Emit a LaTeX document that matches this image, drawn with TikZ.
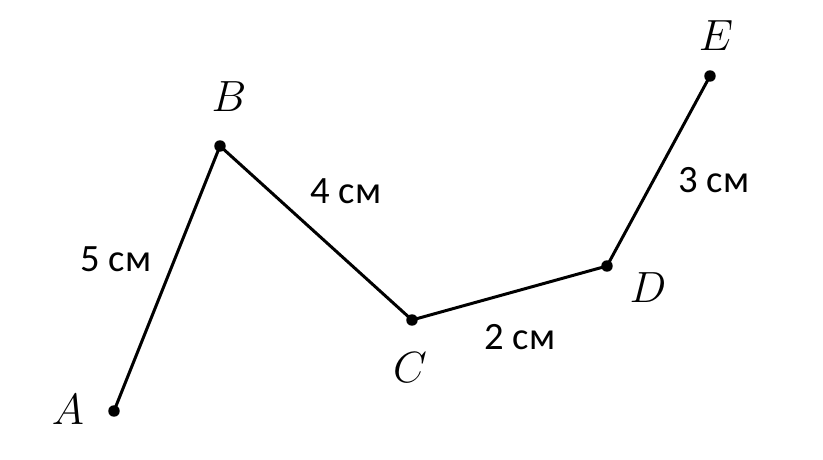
\documentclass[tikz,border=0pt]{standalone}
\usepackage{fontspec}
\setmainfont{Carlito}
\begin{document}
\begin{tikzpicture}[x=0.02cm,y=-0.02cm,
		dot/.style={circle,fill=black,inner sep=0pt,minimum size=11.5pt*0.567},
		pt/.style={font=\fontsize{24}{28}\selectfont},
		len/.style={font=\fontsize{22}{26}\selectfont}]
		\useasboundingbox (0,0) rectangle (823,460);
		\node[dot] (A) at (114,411) {};
		\node[dot] (B) at (220,146) {};
		\node[dot] (C) at (412,320) {};
		\node[dot] (D) at (607,266) {};
		\node[dot] (E) at (710,76) {};
		\draw[line width=1.7pt] (A.center) -- (B.center) -- (C.center) -- (D.center) -- (E.center);
		\node[pt] (lA) at (68,410) {$A$};
		\node[pt] (lB) at (229,97) {$B$};
		\node[pt] (lC) at (410,368) {$C$};
		\node[pt] (lD) at (648,288) {$D$};
		\node[pt] (lE) at (716,36) {$E$};
		\node[len] (ab) at (116,259) {5 см};
		\node[len] (bc) at (346,191) {4 см};
		\node[len] (cd) at (520,337) {2 см};
		\node[len] (de) at (714,180) {3 см};
	\end{tikzpicture}
\end{document}
